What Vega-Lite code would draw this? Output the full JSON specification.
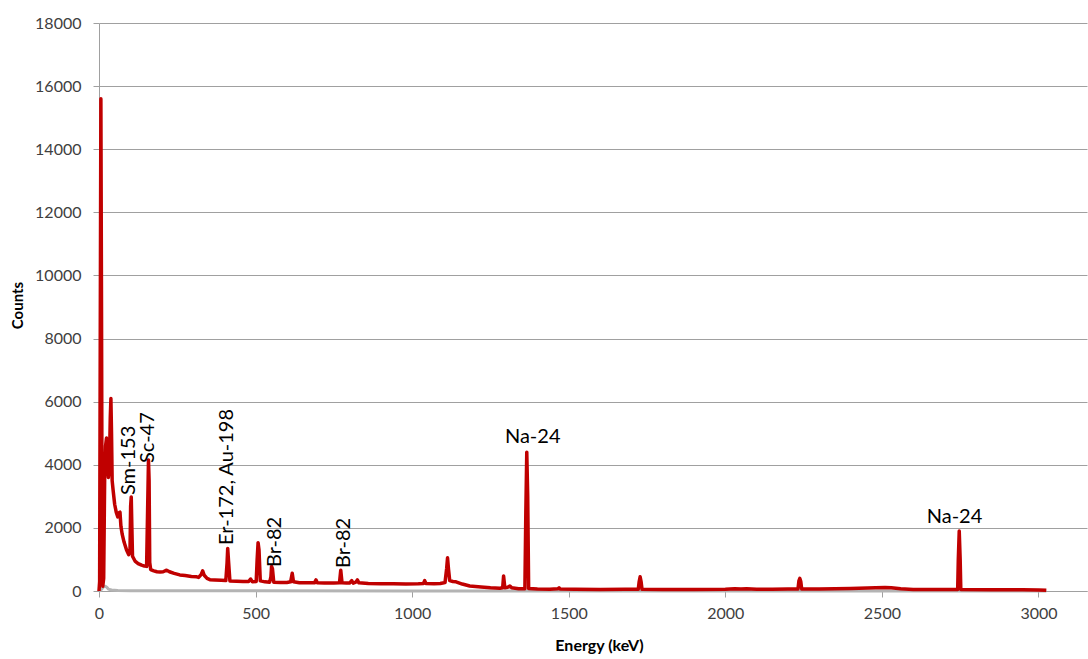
{
  "$schema": "https://vega.github.io/schema/vega-lite/v6.json",
  "autosize": {"type": "none"},
  "padding": {"left": 99, "top": 23, "right": 1, "bottom": 68},
  "width": 988,
  "height": 568,
  "background": "white",
  "config": {
    "view": {"stroke": null},
    "axis": {
      "labelFont": "Lato",
      "labelFontSize": 16,
      "labelColor": "#404040",
      "titleFont": "Lato",
      "titleFontWeight": "bold",
      "titleColor": "#000000",
      "domainColor": "#A0A0A0",
      "tickColor": "#A0A0A0",
      "gridColor": "#A0A0A0",
      "tickSize": 6
    }
  },
  "datasets": {
    "spectrum": [
      {"energy": 0, "counts": 0}, {"energy": 2, "counts": 300}, {"energy": 4, "counts": 8000}, {"energy": 6, "counts": 15600},
      {"energy": 8, "counts": 9000}, {"energy": 10, "counts": 1500}, {"energy": 12, "counts": 150}, {"energy": 15, "counts": 400},
      {"energy": 18, "counts": 3500}, {"energy": 21, "counts": 4600}, {"energy": 24, "counts": 4850}, {"energy": 27, "counts": 4200},
      {"energy": 30, "counts": 3600}, {"energy": 33, "counts": 3900}, {"energy": 36, "counts": 5500}, {"energy": 38, "counts": 6100},
      {"energy": 40, "counts": 5000}, {"energy": 42, "counts": 3500}, {"energy": 45, "counts": 3200}, {"energy": 50, "counts": 2750},
      {"energy": 55, "counts": 2500}, {"energy": 60, "counts": 2350}, {"energy": 64, "counts": 2480}, {"energy": 67, "counts": 2500},
      {"energy": 70, "counts": 2050}, {"energy": 74, "counts": 1800}, {"energy": 80, "counts": 1550}, {"energy": 88, "counts": 1300},
      {"energy": 95, "counts": 1150}, {"energy": 99, "counts": 1250}, {"energy": 101, "counts": 2700}, {"energy": 103, "counts": 2980},
      {"energy": 105, "counts": 2000}, {"energy": 107, "counts": 1100}, {"energy": 115, "counts": 950}, {"energy": 125, "counts": 870},
      {"energy": 136, "counts": 820}, {"energy": 145, "counts": 790}, {"energy": 152, "counts": 780}, {"energy": 156, "counts": 3000},
      {"energy": 158, "counts": 4150}, {"energy": 160, "counts": 3500}, {"energy": 162, "counts": 900}, {"energy": 165, "counts": 680},
      {"energy": 175, "counts": 640}, {"energy": 185, "counts": 610}, {"energy": 195, "counts": 600}, {"energy": 205, "counts": 610},
      {"energy": 216, "counts": 660}, {"energy": 225, "counts": 610}, {"energy": 240, "counts": 560}, {"energy": 258, "counts": 510},
      {"energy": 275, "counts": 490}, {"energy": 295, "counts": 460}, {"energy": 312, "counts": 450}, {"energy": 318, "counts": 430},
      {"energy": 326, "counts": 520}, {"energy": 331, "counts": 640}, {"energy": 336, "counts": 500}, {"energy": 345, "counts": 400},
      {"energy": 354, "counts": 360}, {"energy": 370, "counts": 350}, {"energy": 390, "counts": 340}, {"energy": 405, "counts": 330},
      {"energy": 409, "counts": 900}, {"energy": 411, "counts": 1350}, {"energy": 414, "counts": 900}, {"energy": 418, "counts": 320},
      {"energy": 440, "counts": 310}, {"energy": 460, "counts": 300}, {"energy": 478, "counts": 300}, {"energy": 484, "counts": 380},
      {"energy": 490, "counts": 290}, {"energy": 502, "counts": 300}, {"energy": 505, "counts": 1000}, {"energy": 508, "counts": 1530},
      {"energy": 511, "counts": 1300}, {"energy": 515, "counts": 320}, {"energy": 530, "counts": 290}, {"energy": 545, "counts": 280},
      {"energy": 549, "counts": 450}, {"energy": 551, "counts": 780}, {"energy": 554, "counts": 700}, {"energy": 558, "counts": 280},
      {"energy": 580, "counts": 270}, {"energy": 600, "counts": 270}, {"energy": 612, "counts": 290}, {"energy": 617, "counts": 560},
      {"energy": 621, "counts": 290}, {"energy": 640, "counts": 260}, {"energy": 660, "counts": 260}, {"energy": 688, "counts": 260},
      {"energy": 693, "counts": 350}, {"energy": 697, "counts": 260}, {"energy": 720, "counts": 250}, {"energy": 750, "counts": 250},
      {"energy": 768, "counts": 260}, {"energy": 772, "counts": 660}, {"energy": 776, "counts": 260}, {"energy": 790, "counts": 250},
      {"energy": 800, "counts": 250}, {"energy": 807, "counts": 330}, {"energy": 812, "counts": 250}, {"energy": 820, "counts": 280},
      {"energy": 825, "counts": 350}, {"energy": 830, "counts": 260}, {"energy": 860, "counts": 240}, {"energy": 900, "counts": 230},
      {"energy": 940, "counts": 230}, {"energy": 980, "counts": 220}, {"energy": 1020, "counts": 230}, {"energy": 1036, "counts": 240},
      {"energy": 1040, "counts": 330}, {"energy": 1044, "counts": 240}, {"energy": 1070, "counts": 230}, {"energy": 1090, "counts": 240},
      {"energy": 1105, "counts": 270}, {"energy": 1110, "counts": 700}, {"energy": 1113, "counts": 1050}, {"energy": 1116, "counts": 700},
      {"energy": 1120, "counts": 330}, {"energy": 1130, "counts": 300}, {"energy": 1140, "counts": 290}, {"energy": 1160, "counts": 220},
      {"energy": 1184, "counts": 160}, {"energy": 1220, "counts": 130}, {"energy": 1250, "counts": 100}, {"energy": 1280, "counts": 85},
      {"energy": 1289, "counts": 100}, {"energy": 1292, "counts": 475}, {"energy": 1296, "counts": 100}, {"energy": 1305, "counts": 120},
      {"energy": 1312, "counts": 160}, {"energy": 1318, "counts": 100}, {"energy": 1340, "counts": 70}, {"energy": 1360, "counts": 70},
      {"energy": 1363, "counts": 2500}, {"energy": 1366, "counts": 4400}, {"energy": 1369, "counts": 3000}, {"energy": 1372, "counts": 80},
      {"energy": 1400, "counts": 60}, {"energy": 1440, "counts": 55}, {"energy": 1465, "counts": 70}, {"energy": 1469, "counts": 100},
      {"energy": 1473, "counts": 60}, {"energy": 1520, "counts": 55}, {"energy": 1600, "counts": 50}, {"energy": 1680, "counts": 55},
      {"energy": 1722, "counts": 55}, {"energy": 1725, "counts": 300}, {"energy": 1728, "counts": 450}, {"energy": 1731, "counts": 300},
      {"energy": 1734, "counts": 55}, {"energy": 1800, "counts": 50}, {"energy": 1900, "counts": 50}, {"energy": 2000, "counts": 55},
      {"energy": 2030, "counts": 70}, {"energy": 2050, "counts": 60}, {"energy": 2068, "counts": 70}, {"energy": 2100, "counts": 55},
      {"energy": 2150, "counts": 55}, {"energy": 2200, "counts": 60}, {"energy": 2232, "counts": 60}, {"energy": 2235, "counts": 320},
      {"energy": 2238, "counts": 400}, {"energy": 2241, "counts": 300}, {"energy": 2244, "counts": 60}, {"energy": 2300, "counts": 65},
      {"energy": 2400, "counts": 80}, {"energy": 2480, "counts": 100}, {"energy": 2510, "counts": 110}, {"energy": 2530, "counts": 100},
      {"energy": 2560, "counts": 70}, {"energy": 2600, "counts": 50}, {"energy": 2700, "counts": 45}, {"energy": 2742, "counts": 45},
      {"energy": 2744, "counts": 1000}, {"energy": 2747, "counts": 1900}, {"energy": 2750, "counts": 1000}, {"energy": 2752, "counts": 45},
      {"energy": 2850, "counts": 40}, {"energy": 2950, "counts": 40}, {"energy": 3000, "counts": 35}, {"energy": 3025, "counts": 20}
    ],
    "background": [
      {"energy": 0, "counts": 0}, {"energy": 5, "counts": 20}, {"energy": 10, "counts": 80}, {"energy": 15, "counts": 140},
      {"energy": 20, "counts": 150}, {"energy": 25, "counts": 120}, {"energy": 30, "counts": 60}, {"energy": 40, "counts": 30},
      {"energy": 60, "counts": 15}, {"energy": 100, "counts": 10}, {"energy": 300, "counts": 5}, {"energy": 1000, "counts": 2},
      {"energy": 3025, "counts": 0}
    ],
    "vlabels": [
      {"label": "Sm-153", "energy": 96, "counts": 3042},
      {"label": "Sc-47", "energy": 156, "counts": 4056},
      {"label": "Er-172, Au-198", "energy": 410, "counts": 1458},
      {"label": "Br-82", "energy": 563, "counts": 760},
      {"label": "Br-82", "energy": 782, "counts": 729}
    ],
    "hlabels": [
      {"label": "Na-24", "energy": 1385, "counts": 4690},
      {"label": "Na-24", "energy": 2732, "counts": 2145}
    ]
  },
  "encoding": {
    "x": {
      "field": "energy",
      "type": "quantitative",
      "scale": {"domain": [0, 3155], "nice": false, "zero": true},
      "axis": {
        "title": "Energy (keV)",
        "titleFontSize": 16,
        "values": [0, 500, 1000, 1500, 2000, 2500, 3000],
        "format": "d",
        "grid": false,
        "labelPadding": 8,
        "labelFlush": false,
        "titleX": 500,
        "titleY": 54,
        "titleBaseline": "middle"
      }
    },
    "y": {
      "field": "counts",
      "type": "quantitative",
      "scale": {"domain": [0, 18000], "nice": false},
      "axis": {
        "title": "Counts",
        "titleFontSize": 15,
        "values": [0, 2000, 4000, 6000, 8000, 10000, 12000, 14000, 16000, 18000],
        "format": "d",
        "grid": true,
        "labelPadding": 12,
        "titleX": -82,
        "titleY": 282,
        "titleBaseline": "middle",
        "titleAngle": 270
      }
    }
  },
  "layer": [
    {
      "data": {"name": "background"},
      "mark": {"type": "line", "color": "#B4B4B4", "strokeWidth": 3, "strokeJoin": "round"}
    },
    {
      "data": {"name": "spectrum"},
      "mark": {"type": "line", "color": "#C00000", "strokeWidth": 3.5, "strokeJoin": "round"}
    },
    {
      "data": {"name": "vlabels"},
      "mark": {"type": "text", "angle": 270, "align": "left", "baseline": "middle", "font": "Lato", "fontSize": 20, "color": "#000000"},
      "encoding": {"text": {"field": "label"}}
    },
    {
      "data": {"name": "hlabels"},
      "mark": {"type": "text", "align": "center", "baseline": "alphabetic", "font": "Lato", "fontSize": 20, "color": "#000000"},
      "encoding": {"text": {"field": "label"}}
    }
  ]
}
